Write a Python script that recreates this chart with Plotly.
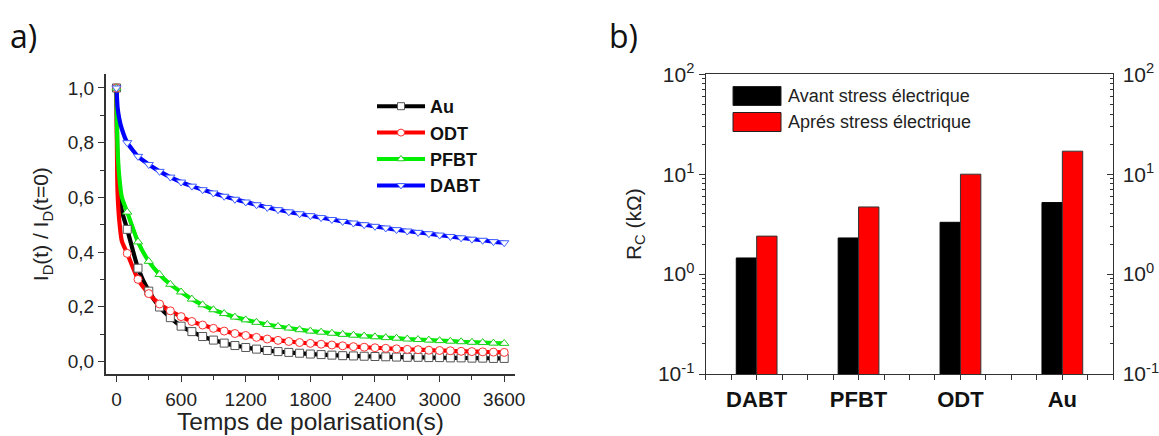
import plotly.graph_objects as go

# ---------------- Data: panel a) ----------------
t_markers = list(range(0, 3601, 100))
t_early = [0, 10, 25, 50]

au = [1.0, 0.483, 0.341, 0.257, 0.199, 0.160, 0.129, 0.109, 0.091, 0.078, 0.067,
      0.058, 0.051, 0.045, 0.040, 0.036, 0.033, 0.030, 0.027, 0.025, 0.023, 0.021,
      0.020, 0.019, 0.018, 0.017, 0.016, 0.015, 0.015, 0.014, 0.014, 0.013, 0.013,
      0.012, 0.012, 0.011, 0.011]
odt = [1.0, 0.395, 0.300, 0.248, 0.210, 0.185, 0.164, 0.146, 0.133, 0.121, 0.111,
       0.102, 0.095, 0.088, 0.082, 0.077, 0.073, 0.069, 0.066, 0.063, 0.060, 0.057,
       0.054, 0.052, 0.050, 0.048, 0.046, 0.044, 0.043, 0.041, 0.040, 0.039, 0.037,
       0.036, 0.035, 0.034, 0.033]
pfbt = [1.0, 0.546, 0.437, 0.366, 0.318, 0.282, 0.254, 0.228, 0.207, 0.189, 0.175,
        0.162, 0.152, 0.143, 0.135, 0.128, 0.122, 0.116, 0.111, 0.107, 0.103, 0.099,
        0.096, 0.093, 0.090, 0.087, 0.085, 0.082, 0.080, 0.078, 0.076, 0.074, 0.072,
        0.070, 0.069, 0.067, 0.066]
dabt = [1.0, 0.800, 0.750, 0.720, 0.695, 0.674, 0.656, 0.641, 0.628, 0.616, 0.604,
        0.593, 0.583, 0.573, 0.563, 0.555, 0.547, 0.540, 0.533, 0.526, 0.519, 0.512,
        0.506, 0.500, 0.494, 0.488, 0.482, 0.477, 0.472, 0.467, 0.462, 0.457, 0.452,
        0.447, 0.443, 0.438, 0.434]

# early-time values read from the steep initial drop of the curves
au_early = [1.0, 0.72, 0.63, 0.55]
odt_early = [1.0, 0.62, 0.52, 0.44]
pfbt_early = [1.0, 0.78, 0.68, 0.60]
dabt_early = [1.0, 0.93, 0.89, 0.85]

series_names = ["Au", "ODT", "PFBT", "DABT"]
x_ticks_a = [0, 600, 1200, 1800, 2400, 3000, 3600]
y_ticks_a = [0.0, 0.2, 0.4, 0.6, 0.8, 1.0]
y_ticktext_a = ["0,0", "0,2", "0,4", "0,6", "0,8", "1,0"]
x_title_a = "Temps de polarisation(s)"

# ---------------- Data: panel b) ----------------
categories = ["DABT", "PFBT", "ODT", "Au"]
rc_avant = [1.45, 2.3, 3.3, 5.2]
rc_apres = [2.4, 4.7, 10.0, 17.0]
legend_b = ["Avant stress électrique", "Aprés stress électrique"]
y_tickvals_b = [0.1, 1, 10, 100]
y_ticktext_b = ["10<sup>-1</sup>", "10<sup>0</sup>", "10<sup>1</sup>", "10<sup>2</sup>"]

W, H = 1159, 436
FONT = "Liberation Sans"


def px(x):
    return x / W


def py(y):
    return 1 - y / H


fig = go.Figure()

styles = {
    "Au": dict(color="#000000", symbol="square", mcolor="#555555"),
    "ODT": dict(color="#ff0000", symbol="circle", mcolor="#ff3030"),
    "PFBT": dict(color="#00ee00", symbol="triangle-up", mcolor="#20cc20"),
    "DABT": dict(color="#0000ff", symbol="triangle-down", mcolor="#4060ff"),
}
data_a = {"Au": (au, au_early), "ODT": (odt, odt_early),
          "PFBT": (pfbt, pfbt_early), "DABT": (dabt, dabt_early)}

for name in series_names:
    vals, early = data_a[name]
    st = styles[name]
    line_t = t_early + t_markers[1:]
    line_v = early + vals[1:]
    fig.add_trace(go.Scatter(x=line_t, y=line_v, mode="lines",
                             line=dict(color=st["color"], width=4.2, shape="spline", smoothing=0.6),
                             showlegend=False, hoverinfo="skip", xaxis="x", yaxis="y"))
for name in series_names:
    vals, early = data_a[name]
    st = styles[name]
    fig.add_trace(go.Scatter(x=t_markers, y=vals, mode="markers",
                             marker=dict(symbol=st["symbol"], size=8, color="white",
                                         line=dict(color=st["mcolor"], width=1)),
                             showlegend=False, xaxis="x", yaxis="y"))
# legend entries
for name in series_names:
    st = styles[name]
    fig.add_trace(go.Scatter(x=[None], y=[None], mode="lines+markers", name=name,
                             line=dict(color=st["color"], width=4),
                             marker=dict(symbol=st["symbol"], size=7, color="white",
                                         line=dict(color=st["mcolor"], width=1)),
                             xaxis="x", yaxis="y", legend="legend"))

# ---------------- panel b) bars ----------------
xpos = list(range(len(categories)))
fig.add_trace(go.Bar(x=xpos, y=rc_avant, name=legend_b[0], marker=dict(color="#000000",
                     line=dict(color="#000000", width=1)), showlegend=False,
                     xaxis="x2", yaxis="y2"))
fig.add_trace(go.Bar(x=xpos, y=rc_apres, name=legend_b[1], marker=dict(color="#ff0000",
                     line=dict(color="#333333", width=1)), showlegend=False,
                     xaxis="x2", yaxis="y2"))
fig.add_trace(go.Scatter(x=[None], y=[None], mode="markers", showlegend=False,
                         hoverinfo="skip", xaxis="x2", yaxis="y3"))

ydom = [py(374), py(74.3)]
tickfont = dict(family=FONT, size=19, color="#222")
minor_log = [m * 10 ** k for k in (-1, 0, 1) for m in range(2, 10)]

fig.update_layout(
    width=W, height=H,
    margin=dict(l=0, r=0, t=0, b=0, autoexpand=False),
    paper_bgcolor="white", plot_bgcolor="white",
    barmode="group", bargap=0.6, bargroupgap=0,
    font=dict(family=FONT, color="#222"),
    xaxis=dict(domain=[px(105.7), px(515)], range=[-100, 3700], automargin=False,
               tickvals=x_ticks_a, ticks="outside", ticklen=6, tickwidth=1.3,
               tickcolor="#333", showline=True, linecolor="#333", linewidth=1.5,
               showgrid=False, zeroline=False, tickfont=tickfont, ticklabelstandoff=1,
               minor=dict(dtick=300, tick0=0, ticks="outside", ticklen=4, tickcolor="#333"),
               anchor="y"),
    yaxis=dict(domain=ydom, range=[-0.046, 1.05], automargin=False,
               tickvals=y_ticks_a, ticktext=y_ticktext_a, ticks="outside", ticklen=6,
               tickwidth=1.3, tickcolor="#333", showline=True, linecolor="#333",
               linewidth=1.5, showgrid=False, zeroline=False, tickfont=tickfont,
               minor=dict(dtick=0.1, tick0=0, ticks="outside", ticklen=4, tickcolor="#333"),
               title=dict(text="I<sub>D</sub>(t) / I<sub>D</sub>(t=0)",
                          font=dict(family=FONT, size=21), standoff=13),
               anchor="x"),
    xaxis2=dict(domain=[px(705.7), px(1113.3)], range=[-0.5, 3.5], automargin=False,
                tickvals=xpos, ticktext=categories, ticks="outside", ticklen=5,
                tickcolor="#333", showline=True, linecolor="#333", linewidth=1.3,
                mirror=True, showgrid=False, zeroline=False,
                tickfont=dict(family=FONT, size=22, color="#111", weight="bold"),
                minor=dict(dtick=0.25, tick0=-0.5, ticks="outside", ticklen=5,
                           tickcolor="#333"),
                anchor="y2"),
    yaxis2=dict(domain=ydom, type="log", range=[-1, 2], automargin=False,
                tickvals=y_tickvals_b, ticktext=y_ticktext_b, ticks="outside",
                ticklen=6, tickcolor="#333", showline=True, linecolor="#333",
                linewidth=1.3, showgrid=False, zeroline=False,
                tickfont=dict(family=FONT, size=21, color="#222"),
                minor=dict(tickvals=minor_log, ticks="outside", ticklen=3, tickcolor="#333"),
                title=dict(text="R<sub>C</sub> (kΩ)", font=dict(family=FONT, size=21),
                           standoff=10),
                anchor="x2"),
    yaxis3=dict(overlaying="y2", side="right", anchor="x2", type="log", range=[-1, 2],
                automargin=False,
                tickvals=y_tickvals_b, ticktext=y_ticktext_b, ticks="inside", ticklen=6,
                tickcolor="#333", showline=True, linecolor="#333", linewidth=1.3,
                showgrid=False, zeroline=False, ticklabelstandoff=4,
                tickfont=dict(family=FONT, size=21, color="#222"),
                minor=dict(tickvals=minor_log, ticks="inside", ticklen=3, tickcolor="#333")),
    legend=dict(x=px(372), y=py(88), xanchor="left", yanchor="top",
                bgcolor="rgba(0,0,0,0)", borderwidth=0,
                font=dict(family=FONT, size=18, color="#111", weight="bold"),
                itemwidth=48, tracegroupgap=0),
)

# x-axis title of panel a)
fig.add_annotation(text=x_title_a, xref="paper", yref="paper", x=px(310), y=py(421),
                   xanchor="center", yanchor="middle", showarrow=False,
                   font=dict(family=FONT, size=24.5, color="#222"))

# manual legend for panel b)
box_rows = [(86.5, 105.5, "#000000"), (112.5, 131.5, "#ff0000")]
for (y0, y1, c), label in zip(box_rows, legend_b):
    fig.add_shape(type="rect", xref="paper", yref="paper",
                  x0=px(733), x1=px(781), y0=py(y1), y1=py(y0),
                  fillcolor=c, line=dict(color="#222", width=1))
    fig.add_annotation(text=label, xref="paper", yref="paper", x=px(786),
                       y=py((y0 + y1) / 2), xanchor="left", yanchor="middle",
                       showarrow=False, font=dict(family=FONT, size=18, color="#222"))

# panel labels
fig.add_annotation(text="a)", xref="paper", yref="paper", x=px(8), y=py(36),
                   xanchor="left", yanchor="middle", showarrow=False,
                   font=dict(family="Open Sans", size=32, color="#111"))
fig.add_annotation(text="b)", xref="paper", yref="paper", x=px(607), y=py(36),
                   xanchor="left", yanchor="middle", showarrow=False,
                   font=dict(family="Open Sans", size=32, color="#111"))

fig.write_html("out.html", config={"displayModeBar": False},
               post_script="document.body.style.margin='0px';document.body.style.padding='0px';")
